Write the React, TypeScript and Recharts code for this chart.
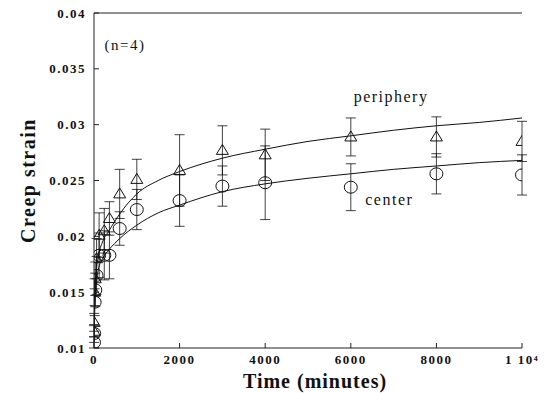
import React from 'react';
import { ComposedChart, XAxis, YAxis, Line, Scatter, ErrorBar, ReferenceDot, Label } from 'recharts';

const xTicks = [0, 2000, 4000, 6000, 8000, 10000];
const yTicks = [0.01, 0.015, 0.02, 0.025, 0.03, 0.035, 0.04];

const fitTimes = [0, 20, 50, 100, 200, 350, 600, 1000, 1500, 2000, 3000, 4000, 5000, 6000, 7000, 8000, 9000, 10000];
const peripheryFit = [0.0115, 0.0150, 0.0168, 0.0182, 0.0195, 0.0205, 0.0220, 0.0238, 0.0250, 0.0258, 0.0270, 0.0278, 0.0285, 0.0290, 0.0295, 0.0299, 0.0302, 0.0306];
const centerFit = [0.0105, 0.0140, 0.0157, 0.0170, 0.0180, 0.0188, 0.0198, 0.0210, 0.0221, 0.0228, 0.0240, 0.0247, 0.0252, 0.0256, 0.0260, 0.0263, 0.0266, 0.0268];

const sampleTimes = [1, 5, 15, 30, 60, 120, 240, 360, 600, 1000, 2000, 3000, 4000, 6000, 8000, 10000];
const peripheryMean = [0.0115, 0.0123, 0.0150, 0.0162, 0.0180, 0.0201, 0.0205, 0.0216, 0.0238, 0.0251, 0.0259, 0.0277, 0.0273, 0.0289, 0.0289, 0.0285];
const peripherySD = [0.0005, 0.0008, 0.0012, 0.0015, 0.0018, 0.0020, 0.0020, 0.0015, 0.0022, 0.0018, 0.0032, 0.0022, 0.0023, 0.0017, 0.0018, 0.0018];
const centerMean = [0.0105, 0.0113, 0.0141, 0.0152, 0.0165, 0.0183, 0.0183, 0.0183, 0.0207, 0.0224, 0.0232, 0.0245, 0.0248, 0.0244, 0.0256, 0.0255];
const centerSD = [0.0005, 0.0008, 0.0012, 0.0015, 0.0017, 0.0020, 0.0022, 0.0021, 0.0015, 0.0018, 0.0023, 0.0018, 0.0033, 0.0021, 0.0018, 0.0018];

const peripheryFitData = fitTimes.map((t, i) => ({ t, v: peripheryFit[i] }));
const centerFitData = fitTimes.map((t, i) => ({ t, v: centerFit[i] }));
const peripheryPts = sampleTimes.map((t, i) => ({ t, v: peripheryMean[i], e: peripherySD[i] }));
const centerPts = sampleTimes.map((t, i) => ({ t, v: centerMean[i], e: centerSD[i] }));

const SERIF = '"Liberation Serif", "Times New Roman", serif';

const fmtX = (v: number) => (v === 10000 ? '1 10\u2074' : String(v));
const fmtY = (v: number) => String(Number(v.toFixed(3)));

const XTick = (props: any) => {
  const { x, y, payload } = props;
  return (
    <text x={x} y={y + 14} textAnchor="middle" dominantBaseline="central"
      style={{ fontFamily: SERIF, fontWeight: 700, fontSize: 13, letterSpacing: 1.5, fill: '#111' }}>
      {fmtX(payload.value)}
    </text>
  );
};
const YTick = (props: any) => {
  const { payload } = props;
  return (
    <text x={86} y={props.y} textAnchor="end" dominantBaseline="central"
      style={{ fontFamily: SERIF, fontWeight: 700, fontSize: 13, letterSpacing: 1.5, fill: '#111' }}>
      {fmtY(payload.value)}
    </text>
  );
};

const Triangle = (props: any) => {
  const { cx, cy } = props;
  if (cx == null || cy == null) return null;
  return <polygon points={`${cx},${cy - 6} ${cx - 6},${cy + 4} ${cx + 6},${cy + 4}`} fill="none" stroke="#111" strokeWidth={1} />;
};
const Circle = (props: any) => {
  const { cx, cy } = props;
  if (cx == null || cy == null) return null;
  return <ellipse cx={cx} cy={cy} rx={6.5} ry={6} fill="none" stroke="#111" strokeWidth={1} />;
};

const annot = (value: string, size: number) => ({
  value,
  position: 'center' as const,
  style: { fontFamily: SERIF, fontSize: size, fill: '#111', letterSpacing: 1.5 },
});

export default function App() {
  return (
    <div style={{ position: 'absolute', left: 0, top: 0, width: 549, height: 393, background: '#fff' }}>
      <ComposedChart width={549} height={393} margin={{ top: 12, right: 27, bottom: 0, left: 0 }}>
        <XAxis
          type="number"
          dataKey="t"
          domain={[0, 10000]}
          ticks={xTicks}
          tick={<XTick />}
          tickSize={-5}
          height={45}
          axisLine={{ stroke: '#222' }}
          tickLine={{ stroke: '#222' }}
          allowDataOverflow
        >
          <Label
            content={(p: any) => {
              const vb = p.viewBox;
              return (
                <text x={vb.x + vb.width / 2 + 7} y={vb.y + 33} textAnchor="middle" dominantBaseline="central"
                  style={{ fontFamily: SERIF, fontWeight: 700, fontSize: 20, letterSpacing: 1, fill: '#111' }}>
                  Time (minutes)
                </text>
              );
            }}
          />
        </XAxis>
        <XAxis
          xAxisId="top"
          orientation="top"
          type="number"
          domain={[0, 10000]}
          ticks={xTicks}
          tick={() => null}
          tickSize={-5}
          height={1}
          axisLine={{ stroke: '#222' }}
          tickLine={{ stroke: '#222' }}
          allowDataOverflow
        />
        <YAxis
          type="number"
          dataKey="v"
          domain={[0.01, 0.04]}
          ticks={yTicks}
          tick={<YTick />}
          tickSize={-5}
          width={94}
          axisLine={{ stroke: '#222' }}
          tickLine={{ stroke: '#222' }}
          allowDataOverflow
        >
          <Label
            content={(p: any) => {
              const vb = p.viewBox;
              const cx = vb.x + 28;
              const cy = vb.y + vb.height / 2;
              return (
                <text x={cx} y={cy} transform={`rotate(-90 ${cx} ${cy})`} textAnchor="middle" dominantBaseline="central"
                  style={{ fontFamily: SERIF, fontWeight: 700, fontSize: 20, letterSpacing: 1.5, fill: '#111' }}>
                  Creep strain
                </text>
              );
            }}
          />
        </YAxis>
        <YAxis
          yAxisId="right"
          orientation="right"
          type="number"
          domain={[0.01, 0.04]}
          ticks={yTicks}
          tick={() => null}
          tickSize={-5}
          width={0}
          axisLine={{ stroke: '#222' }}
          tickLine={{ stroke: '#222' }}
          allowDataOverflow
        />
        <Line data={peripheryFitData} dataKey="v" type="monotone" stroke="#111" strokeWidth={1} dot={false} isAnimationActive={false} />
        <Line data={centerFitData} dataKey="v" type="monotone" stroke="#111" strokeWidth={1} dot={false} isAnimationActive={false} />
        <Scatter data={peripheryPts} dataKey="v" shape={<Triangle />} isAnimationActive={false}>
          <ErrorBar dataKey="e" direction="y" width={5} stroke="#111" strokeWidth={0.8} />
        </Scatter>
        <Scatter data={centerPts} dataKey="v" shape={<Circle />} isAnimationActive={false}>
          <ErrorBar dataKey="e" direction="y" width={5} stroke="#111" strokeWidth={0.8} />
        </Scatter>
        <ReferenceDot x={724} y={0.0372} r={0} stroke="none" label={annot('(n=4)', 15)} />
        <ReferenceDot x={6940} y={0.0325} r={0} stroke="none" label={annot('periphery', 16)} />
        <ReferenceDot x={6900} y={0.0233} r={0} stroke="none" label={annot('center', 16)} />
      </ComposedChart>
    </div>
  );
}
